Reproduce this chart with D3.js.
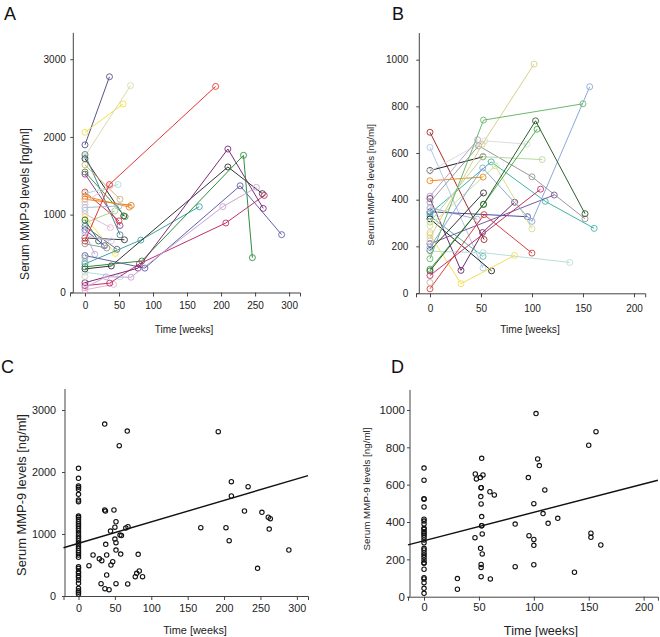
<!DOCTYPE html>
<html><head><meta charset="utf-8">
<script src="https://cdn.jsdelivr.net/npm/d3@7"></script>
<style>
body { margin: 0; background: #fff; }
svg { font-family: "Liberation Sans", Arial, sans-serif; }
</style></head><body>
<script>
// Panel A: one entry per patient, weeks and serum MMP-9 (ng/ml)
const weeksA = [
  [0,36],[0,56],[0,67],[0,57],[0,51.5],[0,51.5],[0,59],[0,51.5],[0,50],[0,48.7],
  [0,65],[0,68],[0,37],[0,50],[0,44],[0,37.4],[0,44.6],[0,20],[0,28.6],[0,58],
  [0,32],[0,47],[0,14.4],[0,38.7],[0,51.5],[0,42],
  [0,36,192],[0,82,168],[0,38.7,210,260.7],[0,83.5,233,246],[0,88,228,289],
  [0,36.3,80,207,263.5],[0,78,210,262],[0,31,67.6,202.6,252],
  [0],[0],[0],[0],[0]
];
const levelsA = [
  [1898,2774],[2059,2425],[1753,2661],[1720,983],[1774,740],[1640,1198],[1548,975],[1521,860],[1290,919],[1269,1387],
  [1237,1097],[1199,1118],[1161,1370],[1091,1110],[892,1048],[1011,833],[968,500],[930,661],[806,600],[699,676],
  [624,570],[849,554],[769,489],[731,661],[258,199],[32,102],
  [661,1387,2650],[366,672,1102],[301,339,1613,1270],[328,403,1763,446],[473,311,1371,742],
  [86,118,366,892,1247],[124,311,1844,1080],[59,199,194,1102,1350],
  [1129],[1054],[446],[392],[204]
];
const coloursA = [
  "#55558a","#eee24a","#dcdaa8","#2b2b2b","#4d8595","#cbb47a","#3c9a3c","#8e3c8e","#e0413c","#a9dcdc",
  "#f0902a","#e07d20","#f0c0c0","#a7bcd6","#a5d58f","#e9b7d3","#f2e642","#2d6d4d","#4b4ba8","#3a3a3a",
  "#9a9a9a","#5e6e8e","#b8a8d8","#d8c8e8","#b5e0e0","#e8b0cc",
  "#e8372f","#3aa7a0","#333333","#2f8f3f","#6060a8",
  "#c0306a","#7a2a7a","#c9a3d4",
  "#cfcfcf","#b0c4d8","#9fb8a0","#8fb0d0","#d8d0b0"
];

// Panel B
const weeksB = [
  [0,53],[0,52],[0,52],[0,53.7,95],[0,52],[0,46.7],[0,30.4,51.5,83],[0,47.7,100,152],[0,46.4],[0,95.6],
  [0,60,113,161],[0,52],[0,60.4],[0,52,110],[0,64,100],[0,30.4,83],[0,51.3,102],[0,121.8],[0,51.7,100,156.6],[0,52.5],
  [0,52,137],[0,52.5,150],[0,52.5,105],[0,52.5,103.5,152],[0,108.4],[0,53,100],
  [0],[0],[0],[0]
];
const levelsB = [
  [689,229],[624,107],[525,584],[522,652,638],[481,497],[415,657],[405,97,259,389],[389,631,498,318],[366,316],[348,327],
  [340,562,393,277],[330,157],[318,95],[304,584,572],[289,545,275],[250,40,161],[236,638,981],[211,420],[196,536,307,884],[182,429],
  [179,173,131],[147,741,811],[102,380,702],[95,380,738,340],[75,445],[18,336,171],
  [361],[259],[223],[45]
];
const coloursB = [
  "#a52a2a","#b0c8e8","#222222","#dddddd","#f08a20","#c0a0d0","#6b2a6b","#999999","#a8a8d0","#4a4a9a",
  "#3fb5a5","#5ab0b0","#222222","#b8d8a0","#d0e090","#f0e050","#d8cf8a","#7a5aa0","#8aa8d8","#333333",
  "#b8e0d8","#6db86d","#4caf4c","#2d5d2d","#c0306a","#d84040",
  "#c8c8e0","#e0c8a0","#d0d0d0","#c8b8a0"
];

// regression lines read from C and D: [intercept, slope per week]
const fitC = [850, 3.46];
const fitD = [300, 1.52];

const yTicksAC = [0, 1000, 2000, 3000];
const xTicksAC = [0, 50, 100, 150, 200, 250, 300];
const yTicksBD = [0, 200, 400, 600, 800, 1000];
const xTicksBD = [0, 50, 100, 150, 200];

const yTitle = "Serum MMP-9 levels [ng/ml]";
const xTitle = "Time [weeks]";

const svg = d3.select("body").append("svg")
  .attr("width", 660).attr("height", 637);

function panel(o) {
  const g = svg.append("g");
  const x = d3.scaleLinear().domain(o.xd).range(o.xr);
  const y = d3.scaleLinear().domain(o.yd).range(o.yr);

  const xa = g.append("g").attr("transform", "translate(0," + o.xAxisY + ")")
    .call(d3.axisBottom(x).tickValues(o.xt).tickFormat(d3.format("d"))
      .tickSizeOuter(0).tickSize(4).tickPadding(o.xPad));
  const ya = g.append("g").attr("transform", "translate(" + o.yAxisX + ",0)")
    .call(d3.axisLeft(y).tickValues(o.yt).tickFormat(d3.format("d"))
      .tickSizeOuter(0).tickSize(3).tickPadding(o.yPad));
  // y axis line runs down to the x axis
  ya.select(".domain").attr("d", "M0," + o.yr[1] + "V" + o.xAxisY);
  [xa, ya].forEach(a => {
    a.selectAll(".domain, .tick line").attr("stroke", "#444");
    a.selectAll("text").attr("fill", "#222");
  });
  xa.attr("font-family", null).attr("font-size", o.xFont);
  ya.attr("font-family", null).attr("font-size", o.yFont);

  g.append("text")
    .attr("x", o.lx).attr("y", o.ly)
    .attr("font-size", "18px").attr("fill", "#111")
    .text(o.letter);

  g.append("text")
    .attr("transform", "translate(" + o.ytX + "," + o.ytY + ") rotate(-90)")
    .attr("text-anchor", "middle")
    .attr("font-size", o.ytFont + "px").attr("fill", "#222")
    .text(yTitle);

  g.append("text")
    .attr("x", o.xtX).attr("y", o.xtY)
    .attr("text-anchor", "middle")
    .attr("font-size", o.xtFont + "px").attr("fill", "#222")
    .text(xTitle);

  return { g: g, x: x, y: y };
}

function spaghetti(p, weeks, levels, colours) {
  const line = d3.line().x(d => p.x(d[0])).y(d => p.y(d[1]));
  weeks.forEach((w, i) => {
    const pts = w.map((t, j) => [t, levels[i][j]]);
    if (pts.length > 1) {
      p.g.append("path").datum(pts)
        .attr("d", line)
        .attr("fill", "none")
        .attr("stroke", colours[i])
        .attr("stroke-width", 1);
    }
    p.g.selectAll(null).data(pts).enter().append("circle")
      .attr("cx", d => p.x(d[0]))
      .attr("cy", d => p.y(d[1]))
      .attr("r", 3)
      .attr("fill", "none")
      .attr("stroke", colours[i])
      .attr("stroke-width", 0.9);
  });
}

function scatter(p, weeks, levels, fit) {
  const pts = [];
  weeks.forEach((w, i) => w.forEach((t, j) => pts.push([t, levels[i][j]])));
  const xd = p.x.domain();
  p.g.append("path")
    .datum([xd[0], xd[1]])
    .attr("d", d3.line().x(d => p.x(d)).y(d => p.y(fit[0] + fit[1] * d)))
    .attr("fill", "none")
    .attr("stroke", "#111")
    .attr("stroke-width", 1.4);
  p.g.selectAll(null).data(pts).enter().append("circle")
    .attr("cx", d => p.x(d[0]))
    .attr("cy", d => p.y(d[1]))
    .attr("r", 2.2)
    .attr("fill", "none")
    .attr("stroke", "#111")
    .attr("stroke-width", 1.1);
}

const pA = panel({
  letter: "A", lx: 4, ly: 20,
  xd: [-22, 316], xr: [70, 300], yd: [0, 3340], yr: [292.3, 32.8],
  xAxisY: 292.5, yAxisX: 73.3, xt: xTicksAC, yt: yTicksAC,
  xPad: 5, yPad: 4.5, xFont: 10, yFont: 10,
  ytX: 29, ytY: 204, ytFont: 12.1,
  xtX: 184, xtY: 333, xtFont: 10
});
spaghetti(pA, weeksA, levelsA, coloursA);

const pB = panel({
  letter: "B", lx: 392, ly: 20,
  xd: [-13.7, 211], xr: [416, 645.2], yd: [0, 1114], yr: [293, 33.1],
  xAxisY: 293.3, yAxisX: 419.3, xt: xTicksBD, yt: yTicksBD,
  xPad: 8, yPad: 8, xFont: 10, yFont: 10,
  ytX: 374, ytY: 185, ytFont: 9.7,
  xtX: 530, xtY: 333, xtFont: 10.2
});
spaghetti(pB, weeksB, levelsB, coloursB);

const pC = panel({
  letter: "C", lx: 1, ly: 373,
  xd: [-20.6, 315.3], xr: [63.5, 308], yd: [0, 3339], yr: [596, 389],
  xAxisY: 596, yAxisX: 65, xt: xTicksAC, yt: yTicksAC,
  xPad: 4.5, yPad: 6, xFont: 10.8, yFont: 10.8,
  ytX: 26, ytY: 495, ytFont: 12.9,
  xtX: 195, xtY: 634, xtFont: 10.9
});
scatter(pC, weeksA, levelsA, fitC);

const pD = panel({
  letter: "D", lx: 391, ly: 373,
  xd: [-14.6, 213], xr: [408, 657.9], yd: [0, 1107], yr: [596.7, 390],
  xAxisY: 596.7, yAxisX: 410, xt: xTicksBD, yt: yTicksBD,
  xPad: 3, yPad: 2, xFont: 11, yFont: 11.5,
  ytX: 369.5, ytY: 489, ytFont: 9.8,
  xtX: 541, xtY: 635, xtFont: 12.7
});
scatter(pD, weeksB, levelsB, fitD);
</script>
</body></html>
